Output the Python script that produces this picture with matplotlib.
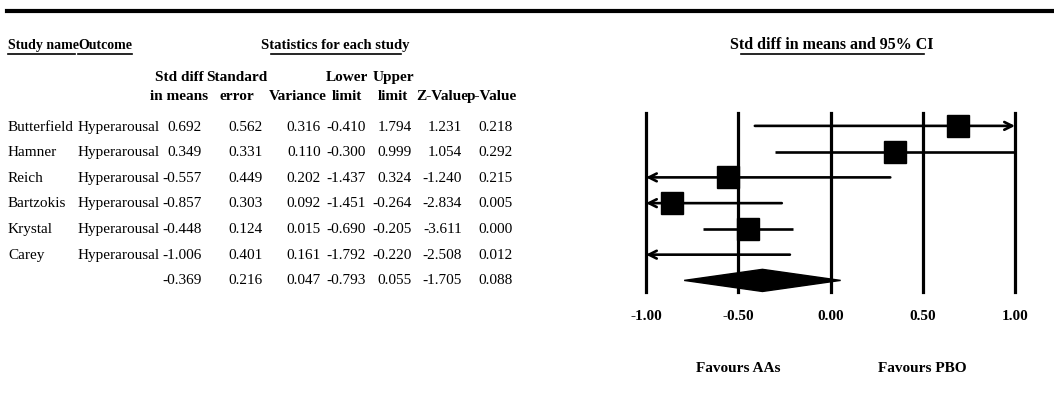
import numpy as np
import matplotlib
matplotlib.use("Agg")
import matplotlib.pyplot as plt

# data
studies = ["Butterfield", "Hamner", "Reich", "Bartzokis", "Krystal", "Carey"]
outcome = "Hyperarousal"
std_diff = [0.692, 0.349, -0.557, -0.857, -0.448, -1.006]
std_err = [0.562, 0.331, 0.449, 0.303, 0.124, 0.401]
variance = [0.316, 0.110, 0.202, 0.092, 0.015, 0.161]
lower = [-0.410, -0.300, -1.437, -1.451, -0.690, -1.792]
upper = [1.794, 0.999, 0.324, -0.264, -0.205, -0.220]
z_val = [1.231, 1.054, -1.240, -2.834, -3.611, -2.508]
p_val = [0.218, 0.292, 0.215, 0.005, 0.000, 0.012]

# pooled result
pooled = dict(d=-0.369, se=0.216, var=0.047, lo=-0.793, hi=0.055, z=-1.705, p=0.088)

ticks = [-1.0, -0.5, 0.0, 0.5, 1.0]
tick_labels = ["-1.00", "-0.50", "0.00", "0.50", "1.00"]

W, H = 1054, 419
plt.rcParams['font.family'] = ['Liberation Serif', 'DejaVu Serif']
fs = 11

fig = plt.figure(figsize=(W / 100, H / 100), dpi=100)


def fx(x):
    return x / W


def fy(y):
    return 1 - y / H


# thick rule on top
fig.add_artist(plt.Line2D([fx(7), fx(1054)], [fy(11), fy(11)], lw=3, color="black"))


def underline(t, inset_l=0, inset_r=0, y=None):
    fig.canvas.draw()
    bb = t.get_window_extent()
    fig.add_artist(plt.Line2D([(bb.x0 + inset_l) / W, (bb.x1 - inset_r) / W],
                              [fy(y), fy(y)], lw=1.2, color="black"))


# group headers (baseline aligned)
hb = 49
t1 = fig.text(fx(8), fy(hb), "Study name", fontsize=10, fontweight="bold", va="baseline")
t2 = fig.text(fx(78), fy(hb), "Outcome", fontsize=10, fontweight="bold", va="baseline")
t3 = fig.text(fx(335), fy(hb), "Statistics for each study", fontsize=10.5,
              fontweight="bold", va="baseline", ha="center")
t4 = fig.text(fx(832), fy(hb), "Std diff in means and 95% CI", fontsize=11.5,
              fontweight="bold", va="baseline", ha="center")
underline(t1, inset_r=4, y=54)
underline(t2, y=54)
underline(t3, inset_l=10, inset_r=8, y=54)
underline(t4, inset_l=11, inset_r=10, y=54)

# column headers, two lines
col_top = [("Std diff", 179), ("Standard", 237), ("Lower", 347), ("Upper", 393)]
col_bot = [("in means", 179), ("error", 237), ("Variance", 298), ("limit", 347),
           ("limit", 393), ("Z-Value", 442), ("p-Value", 492)]
for txt, x in col_top:
    fig.text(fx(x), fy(81), txt, fontsize=fs, fontweight="bold", ha="center", va="baseline")
for txt, x in col_bot:
    fig.text(fx(x), fy(100), txt, fontsize=fs, fontweight="bold", ha="center", va="baseline")

# table rows
row_base = [131, 156, 182, 207, 233, 259]
col_right = [202, 263, 321, 366, 412, 462, 513]
for i, name in enumerate(studies):
    y = fy(row_base[i])
    fig.text(fx(8), y, name, fontsize=fs, va="baseline")
    fig.text(fx(78), y, outcome, fontsize=fs, va="baseline")
    vals = [std_diff[i], std_err[i], variance[i], lower[i], upper[i], z_val[i], p_val[i]]
    for v, xr in zip(vals, col_right):
        fig.text(fx(xr), y, f"{v:.3f}", fontsize=fs, va="baseline", ha="right")
pooled_vals = [pooled[k] for k in ["d", "se", "var", "lo", "hi", "z", "p"]]
for v, xr in zip(pooled_vals, col_right):
    fig.text(fx(xr), fy(284), f"{v:.3f}", fontsize=fs, va="baseline", ha="right")

# forest plot
ax = fig.add_axes([fx(646), fy(292), (1015 - 646) / W, (292 - 113) / H])
ax.set_xlim(-1, 1)
ax.set_ylim(6.45, -0.5)
for s in ax.spines.values():
    s.set_visible(False)
ax.set_yticks([])
for t in ticks:
    ax.axvline(t, color="black", lw=2.3, zorder=1, clip_on=False)

for i in range(len(studies)):
    lo, hi = lower[i], upper[i]
    lo_c, hi_c = max(lo, -1), min(hi, 1)
    if lo < -1 and hi > 1:
        ax.hlines(i, lo_c, hi_c, color="black", lw=1.9)
    elif lo < -1:
        ax.annotate("", xy=(lo_c, i), xytext=(hi_c, i),
                    arrowprops=dict(arrowstyle="->", lw=1.9, color="black",
                                    mutation_scale=14, shrinkA=0, shrinkB=0))
    elif hi > 1:
        ax.annotate("", xy=(hi_c, i), xytext=(lo_c, i),
                    arrowprops=dict(arrowstyle="->", lw=1.9, color="black",
                                    mutation_scale=14, shrinkA=0, shrinkB=0))
    else:
        ax.hlines(i, lo_c, hi_c, color="black", lw=1.9)
    if -1 <= std_diff[i] <= 1:
        ax.plot(std_diff[i], i, marker="s", ms=15.5, color="black", zorder=3)

# summary diamond
yd = len(studies)
ax.fill([pooled["lo"], pooled["d"], pooled["hi"], pooled["d"]],
        [yd, yd - 0.43, yd, yd + 0.43], color="black", zorder=3, clip_on=False)

ax.set_xticks(ticks)
ax.set_xticklabels(tick_labels, fontweight="bold", fontsize=fs)
ax.tick_params(axis="x", length=0, pad=13)

tr = ax.get_xaxis_transform()
ax.text(-0.5, -0.43, "Favours AAs", transform=tr, ha="center", va="center",
        fontsize=fs, fontweight="bold")
ax.text(0.5, -0.43, "Favours PBO", transform=tr, ha="center", va="center",
        fontsize=fs, fontweight="bold")

fig.savefig("out.png", dpi=100)
